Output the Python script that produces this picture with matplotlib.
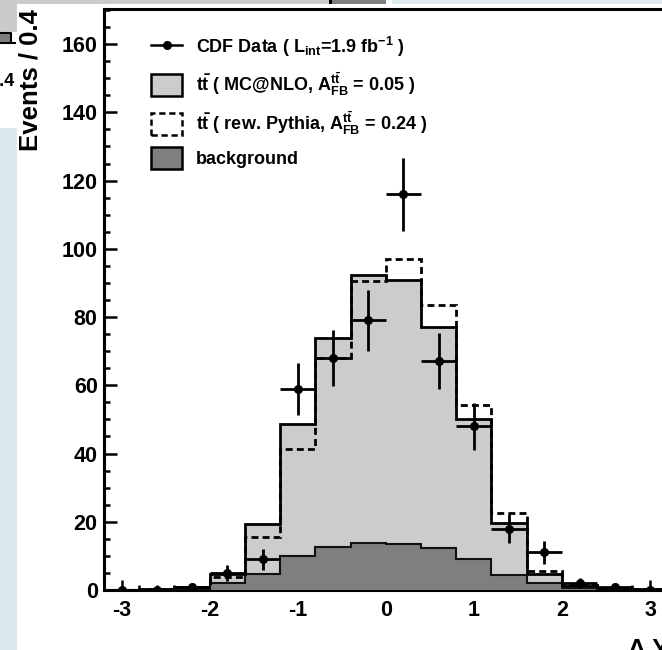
import numpy as np
import matplotlib
matplotlib.use("Agg")
import matplotlib.pyplot as plt
from matplotlib.patches import Rectangle, Patch
from matplotlib.lines import Line2D
from matplotlib.ticker import MultipleLocator

# bins of delta Y, width 0.4
bin_edges = np.linspace(-3.2, 3.2, 17)
bin_centers = 0.5 * (bin_edges[:-1] + bin_edges[1:])

# CDF data counts per bin
data_counts = [0, 0, 1, 5, 9, 59, 68, 79, 116, 67, 48, 18, 11, 2, 1, 0]
# ttbar MC@NLO (incl. background)
mcnlo = [0.1, 0.3, 0.8, 4.7, 19.4, 48.7, 73.8, 92.4, 91.0, 77.0, 50.0, 19.7, 4.8, 1.2, 0.6, 0.2]
# reweighted Pythia
pythia = [0.1, 0.3, 0.8, 3.8, 15.5, 41.3, 68.0, 90.7, 97.1, 83.6, 54.3, 22.5, 5.7, 1.4, 0.7, 0.2]
# background
background = [0.05, 0.1, 0.3, 2.0, 4.7, 10.0, 12.7, 13.9, 13.4, 12.2, 9.0, 4.5, 2.0, 0.6, 0.3, 0.05]

legend_labels = [
    r"CDF Data ( L$_{int}$=1.9 fb$^{-1}$ )",
    r"t$\bar{t}$ ( MC@NLO, A$^{t\bar{t}}_{FB}$ = 0.05 )",
    r"t$\bar{t}$ ( rew. Pythia, A$^{t\bar{t}}_{FB}$ = 0.24 )",
    "background",
]

plt.rcParams["font.family"] = ["Liberation Sans", "DejaVu Sans"]
plt.rcParams["font.weight"] = "bold"
plt.rcParams["axes.unicode_minus"] = False
plt.rcParams["mathtext.fontset"] = "custom"
plt.rcParams["mathtext.rm"] = "Liberation Sans:bold"
plt.rcParams["mathtext.it"] = "Liberation Sans:bold"
plt.rcParams["mathtext.bf"] = "Liberation Sans:bold"
plt.rcParams["mathtext.sf"] = "Liberation Sans:bold"
plt.rcParams["mathtext.default"] = "rm"

W, H = 662, 650
fig = plt.figure(figsize=(W / 100, H / 100), dpi=100)
fig.patch.set_facecolor("white")


def px_rect(x0, y0, x1, y1, **kw):
    # rectangle given in pixel coords from the top-left corner
    r = Rectangle((x0 / W, 1 - y1 / H), (x1 - x0) / W, (y1 - y0) / H,
                  transform=fig.transFigure, **kw)
    fig.add_artist(r)


# bits of the surrounding slide
px_rect(0, 0, 330, 4, facecolor="#cbcbcb", edgecolor="none")
px_rect(330, 0, 386, 4, facecolor="#7f7f7f", edgecolor="none")
px_rect(329, 0, 332, 4, facecolor="black", edgecolor="none")
px_rect(392, 0, W, 4, facecolor="#dde9ef", edgecolor="none")
px_rect(0, 0, 17, 32, facecolor="#cbcbcb", edgecolor="none")
px_rect(0, 32, 11, 43, facecolor="#7f7f7f", edgecolor="none")
fig.add_artist(Line2D([0, 11 / W, 11 / W], [1 - 32.5 / H, 1 - 32.5 / H, 1 - 43 / H],
                      transform=fig.transFigure, color="black", lw=1.5))
fig.add_artist(Line2D([0, 15 / W], [1 - 43 / H, 1 - 43 / H],
                      transform=fig.transFigure, color="black", lw=1.5))
fig.text(15 / W, 1 - 81.5 / H, "0.4", ha="right", va="center", fontsize=13,
         fontweight="bold")
px_rect(0, 128, 17, H, facecolor="#dde9ef", edgecolor="none")

ax = fig.add_axes([104 / W, 60 / H, (667.6 - 104) / W, 581 / H])
ax.set_xlim(-3.2, 3.2)
ax.set_ylim(0, 170.3)

# stacked-style histograms
ax.stairs(mcnlo, bin_edges, fill=True, color="#cccccc", zorder=1)
ax.stairs(mcnlo, bin_edges, baseline=0, color="black", lw=2.0, zorder=2)
ax.stairs(background, bin_edges, fill=True, color="#7f7f7f", zorder=3)
ax.stairs(background, bin_edges, baseline=0, color="#111111", lw=1.5, zorder=4)
ax.stairs(pythia, bin_edges, baseline=0, color="black", lw=2.0,
          linestyle=(0, (2.5, 1.5)), zorder=5)

yerr = np.sqrt(np.array(data_counts, dtype=float))
ax.errorbar(bin_centers, data_counts, xerr=0.2, yerr=yerr, fmt="o", color="black",
            ms=5.5, elinewidth=2.0, capsize=0, zorder=6)

for s in ax.spines.values():
    s.set_linewidth(2.2)
ax.xaxis.set_major_locator(MultipleLocator(1))
ax.xaxis.set_minor_locator(MultipleLocator(0.2))
ax.yaxis.set_major_locator(MultipleLocator(20))
ax.yaxis.set_minor_locator(MultipleLocator(5))
ax.tick_params(which="both", direction="in", top=False, right=False, width=1.8)
ax.tick_params(axis="x", which="major", length=7.5, pad=7, labelsize=15.5)
ax.tick_params(axis="x", which="minor", length=3.5)
ax.tick_params(axis="y", which="major", length=9, pad=4.5, labelsize=15.5)
ax.tick_params(axis="y", which="minor", length=4.2)
for lab in ax.get_xticklabels() + ax.get_yticklabels():
    lab.set_fontweight("bold")

fig.text(31 / W, 1 - 9 / H, "Events / 0.4", rotation=90, ha="center", va="top",
         fontsize=18.5, fontweight="bold")
fig.text(628 / W, 1 - 638 / H, "Δ Y", ha="left", va="top", fontsize=18,
         fontweight="bold")

handles = [
    Line2D([], [], color="black", marker="o", ms=5.5, lw=1.8),
    Patch(facecolor="#cccccc", edgecolor="black", lw=1.8),
    Patch(facecolor="white", edgecolor="black", lw=1.8, linestyle=(0, (2.5, 1.5))),
    Patch(facecolor="#7f7f7f", edgecolor="black", lw=1.8),
]
ax.legend(handles, legend_labels, loc="upper left",
          bbox_to_anchor=(151 / W, 1 - 35 / H), bbox_transform=fig.transFigure,
          frameon=False, prop={"size": 13, "weight": "bold"},
          handlelength=1.72, handleheight=1.5, handletextpad=0.78,
          labelspacing=0.6, borderpad=0, borderaxespad=0)

fig.savefig("out.png", dpi=100)
